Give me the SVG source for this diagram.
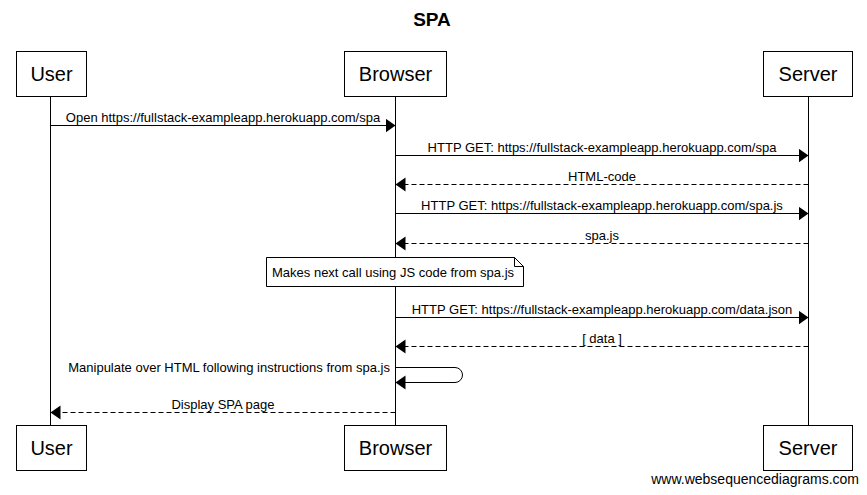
<svg xmlns="http://www.w3.org/2000/svg" width="867" height="495" viewBox="0 0 867 495">
<style>
text{font-family:"Liberation Sans",Arial,Helvetica,sans-serif;fill:#000}
.title{font-size:19px;font-weight:bold;text-anchor:middle}
.actor rect{fill:#fff;stroke:#000;stroke-width:1}
.actor text{font-size:20px;text-anchor:middle}
.life{stroke:#000;stroke-width:1}
.msg{stroke:#000;stroke-width:1;fill:none}
.dash{stroke-dasharray:5,3}
.lbl{font-size:13px;text-anchor:middle}
.note path{fill:#fff;stroke:#000;stroke-width:1}
.note text{font-size:13px}
.wm{font-size:14px;text-anchor:end}
</style>
<defs>
<marker id="ah" markerUnits="userSpaceOnUse" markerWidth="11" markerHeight="15" refX="10" refY="7" orient="auto" viewBox="0 0 11 15">
<path d="M0,0 L10,7 L0,14 z" fill="#000"/>
</marker>
</defs>
<rect width="867" height="495" fill="#fff"/>
<text class="title" x="432" y="26">SPA</text>
<g id="lifelines">
<line class="life" x1="50.5" y1="96" x2="50.5" y2="425"/>
<line class="life" x1="395.5" y1="96" x2="395.5" y2="425"/>
<line class="life" x1="808.5" y1="96" x2="808.5" y2="425"/>
</g>
<g id="user" class="actor">
<rect x="16.5" y="51.5" width="70" height="45"/>
<text x="51.5" y="81">User</text>
<rect x="16.5" y="425.5" width="70" height="45"/>
<text x="51.5" y="455">User</text>
</g>
<g id="browser" class="actor">
<rect x="344.5" y="51.5" width="102" height="45"/>
<text x="395.5" y="81">Browser</text>
<rect x="344.5" y="425.5" width="102" height="45"/>
<text x="395.5" y="455">Browser</text>
</g>
<g id="server" class="actor">
<rect x="763.5" y="51.5" width="89" height="45"/>
<text x="808" y="81">Server</text>
<rect x="763.5" y="425.5" width="89" height="45"/>
<text x="808" y="455">Server</text>
</g>
<g id="note" class="note">
<path d="M266.5,257.5 H514.5 L523.5,266.5 V286.5 H266.5 Z M514.5,257.5 V266.5 H523.5"/>
<text x="272" y="277">Makes next call using JS code from spa.js</text>
</g>
<g id="connectors">
<line class="msg" x1="50.5" y1="125.5" x2="395.5" y2="125.5" marker-end="url(#ah)"/>
<text class="lbl" x="223" y="121.5">Open https://fullstack-exampleapp.herokuapp.com/spa</text>
<line class="msg" x1="395.5" y1="155.5" x2="808.5" y2="155.5" marker-end="url(#ah)"/>
<text class="lbl" x="602" y="151.5">HTTP GET: https://fullstack-exampleapp.herokuapp.com/spa</text>
<line class="msg dash" x1="808.5" y1="184.5" x2="395.5" y2="184.5" marker-end="url(#ah)"/>
<text class="lbl" x="602" y="180.5">HTML-code</text>
<line class="msg" x1="395.5" y1="213.5" x2="808.5" y2="213.5" marker-end="url(#ah)"/>
<text class="lbl" x="602" y="209.5">HTTP GET: https://fullstack-exampleapp.herokuapp.com/spa.js</text>
<line class="msg dash" x1="808.5" y1="243.5" x2="395.5" y2="243.5" marker-end="url(#ah)"/>
<text class="lbl" x="602" y="239.5">spa.js</text>
<line class="msg" x1="395.5" y1="317.5" x2="808.5" y2="317.5" marker-end="url(#ah)"/>
<text class="lbl" x="602" y="313.5">HTTP GET: https://fullstack-exampleapp.herokuapp.com/data.json</text>
<line class="msg dash" x1="808.5" y1="346.5" x2="395.5" y2="346.5" marker-end="url(#ah)"/>
<text class="lbl" x="602" y="342.5">[ data ]</text>
<path class="msg" d="M395.5,367.5 H455 A7.5,7.5 0 0 1 455,382.5 H395.5" marker-end="url(#ah)"/>
<text class="lbl" x="390" y="372" style="text-anchor:end">Manipulate over HTML following instructions from spa.js</text>
<line class="msg dash" x1="395.5" y1="412.5" x2="50.5" y2="412.5" marker-end="url(#ah)"/>
<text class="lbl" x="223" y="408.5">Display SPA page</text>
</g>
<text class="wm" x="859" y="484">www.websequencediagrams.com</text>
</svg>
